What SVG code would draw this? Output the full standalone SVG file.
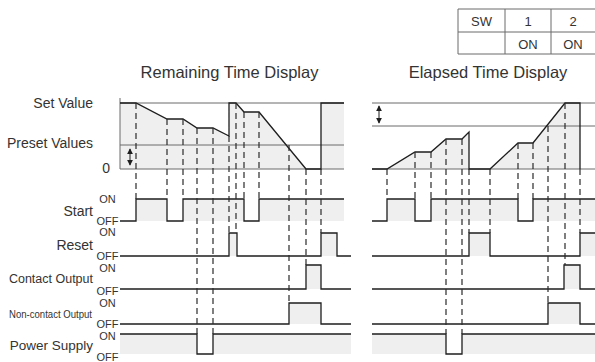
<svg xmlns="http://www.w3.org/2000/svg" width="595" height="362" viewBox="0 0 595 362">
  <style>
    text { font-family: "Liberation Sans", Arial, sans-serif; fill: #333; }
    .lbl { font-size: 14px; text-anchor: end; }
    .st { font-size: 11px; text-anchor: middle; }
    .ttl { font-size: 16.5px; text-anchor: middle; }
    .tbl { font-size: 13px; text-anchor: middle; }
    .grid { stroke: #6a6a6a; stroke-width: 1; fill: none; }
    .sig { stroke: #1e1e1e; stroke-width: 1.3; fill: none; stroke-linejoin: miter; }
    .fillg { fill: #efefef; stroke: none; }
    .dash { stroke: #2a2a2a; stroke-width: 1.2; stroke-dasharray: 6 4; fill: none; }
    .arr { stroke: #1e1e1e; stroke-width: 1; fill: none; }
  </style>
  <defs>
    <marker id="ah" viewBox="0 0 8 8" refX="7" refY="4" markerWidth="6" markerHeight="6" orient="auto-start-reverse">
      <path d="M0,0 L8,4 L0,8 Z" fill="#1e1e1e"/>
    </marker>
  </defs>

  <!-- switch settings table -->
  <g id="switch-table">
    <path class="grid" d="M458,9 H595 M458,32 H595 M458,54 H595 M458,9 V54 M505,9 V54 M551,9 V54" stroke="#444"/>
    <text class="tbl" x="481.5" y="26">SW</text>
    <text class="tbl" x="528" y="26">1</text>
    <text class="tbl" x="573" y="26">2</text>
    <text class="tbl" x="528" y="49">ON</text>
    <text class="tbl" x="573" y="49">ON</text>
  </g>

  <!-- titles -->
  <text class="ttl" x="229.5" y="78">Remaining Time Display</text>
  <text class="ttl" x="488" y="78">Elapsed Time Display</text>

  <!-- row labels -->
  <g id="labels">
    <text class="lbl" x="93" y="108">Set Value</text>
    <text class="lbl" x="93" y="148">Preset Values</text>
    <text class="lbl" x="110" y="173">0</text>
    <text class="lbl" x="93" y="216">Start</text>
    <text class="lbl" x="93" y="250">Reset</text>
    <text class="lbl" x="93" y="283" style="font-size:12.5px">Contact Output</text>
    <text class="lbl" x="92" y="318" style="font-size:11px" textLength="83" lengthAdjust="spacingAndGlyphs">Non-contact Output</text>
    <text class="lbl" x="93" y="350" style="font-size:13.5px">Power Supply</text>
    <text class="st" x="107.5" y="203">ON</text>
    <text class="st" x="107.5" y="224.5">OFF</text>
    <text class="st" x="107.5" y="236">ON</text>
    <text class="st" x="107.5" y="260">OFF</text>
    <text class="st" x="107.5" y="272">ON</text>
    <text class="st" x="107.5" y="295">OFF</text>
    <text class="st" x="107.5" y="307">ON</text>
    <text class="st" x="107.5" y="328">OFF</text>
    <text class="st" x="107.5" y="339.5">ON</text>
    <text class="st" x="107.5" y="361">OFF</text>
  </g>

  <!-- remaining time display: counter value -->
  <g id="remaining-value">
    <path class="fillg" d="M120,103 H136 L167,119 H183 L197,128 H213 L229,136 V103 H236 L244,112 H259 L306,169 H120 Z"/>
    <rect class="fillg" x="321" y="103" width="23" height="66"/>
    <path class="grid" d="M120,103 H344 M120,145 H344 M120,169 H344 M120,98 V169"/>
    <path class="sig" d="M120,103 H136 L167,119 H183 L197,128 H213 L229,136 V103 H236 L244,112 H259 L306,169 H321 V103 H344"/>
    <path class="arr" d="M130,149 V165" marker-start="url(#ah)" marker-end="url(#ah)"/>
  </g>

  <!-- elapsed time display: counter value -->
  <g id="elapsed-value">
    <path class="fillg" d="M387,169 L415,152 H431 L446,139 H462 L469,132 V169 Z"/>
    <path class="fillg" d="M490,169 L518,143 H533 L565,103 H580 V169 Z"/>
    <path class="grid" d="M372,103 H595 M372,126 H595 M372,169 H595"/>
    <path class="sig" d="M372,169 H387 L415,152 H431 L446,139 H462 L469,132 V169 H490 L518,143 H533 L565,103 H580 V169"/>
    <path class="arr" d="M379,106 V123" marker-start="url(#ah)" marker-end="url(#ah)"/>
  </g>

  <!-- remaining time display: signals -->
  <g id="remaining-signals">
    <g class="fillg">
      <rect x="136" y="199" width="31" height="22"/>
      <rect x="183" y="199" width="61" height="22"/>
      <rect x="259" y="199" width="85" height="22"/>
      <rect x="229" y="233" width="8" height="23"/>
      <rect x="321" y="233" width="16" height="23"/>
      <rect x="306" y="265" width="15" height="24"/>
      <rect x="289" y="303" width="32" height="21"/>
      <rect x="120" y="334" width="77" height="20"/>
      <rect x="213" y="334" width="138" height="20"/>
    </g>
    <path class="sig" d="M120,221 H136 V199 H167 V221 H183 V199 H244 V221 H259 V199 H344"/>
    <path class="sig" d="M120,256 H229 V233 H237 V256 H321 V233 H337 V256 H351"/>
    <path class="sig" d="M120,289 H306 V265 H321 V289 H351"/>
    <path class="sig" d="M120,324 H289 V303 H321 V324 H351"/>
    <path class="sig" d="M120,334 H197 V354 H213 V334 H351"/>
  </g>

  <!-- elapsed time display: signals -->
  <g id="elapsed-signals">
    <g class="fillg">
      <rect x="387" y="199" width="28" height="22"/>
      <rect x="431" y="199" width="87" height="22"/>
      <rect x="533" y="199" width="62" height="22"/>
      <rect x="469" y="233" width="21" height="23"/>
      <rect x="580" y="233" width="15" height="23"/>
      <rect x="564" y="265" width="16" height="24"/>
      <rect x="548" y="303" width="32" height="21"/>
      <rect x="372" y="334" width="74" height="20"/>
      <rect x="462" y="334" width="133" height="20"/>
    </g>
    <path class="sig" d="M372,221 H387 V199 H415 V221 H431 V199 H518 V221 H533 V199 H595"/>
    <path class="sig" d="M372,256 H469 V233 H490 V256 H580 V233 H595"/>
    <path class="sig" d="M372,289 H564 V265 H580 V289 H595"/>
    <path class="sig" d="M372,324 H548 V303 H580 V324 H595"/>
    <path class="sig" d="M372,334 H446 V354 H462 V334 H595"/>
  </g>

  <!-- timing guide lines -->
  <g id="connectors" class="dash">
    <path d="M136,103 V199 M167,119 V199 M183,119 V199 M197,128 V334 M213,128 V334 M229,136 V233 M236,103 V233 M244,112 V199 M259,112 V199 M289,145 V303 M306,169 V265 M321,169 V233"/>
    <path d="M387,169 V199 M415,152 V199 M431,152 V199 M446,139 V334 M462,139 V334 M469,169 V233 M490,169 V233 M518,143 V199 M533,143 V199 M548,126 V303 M565,103 V265 M580,169 V233"/>
  </g>
</svg>
